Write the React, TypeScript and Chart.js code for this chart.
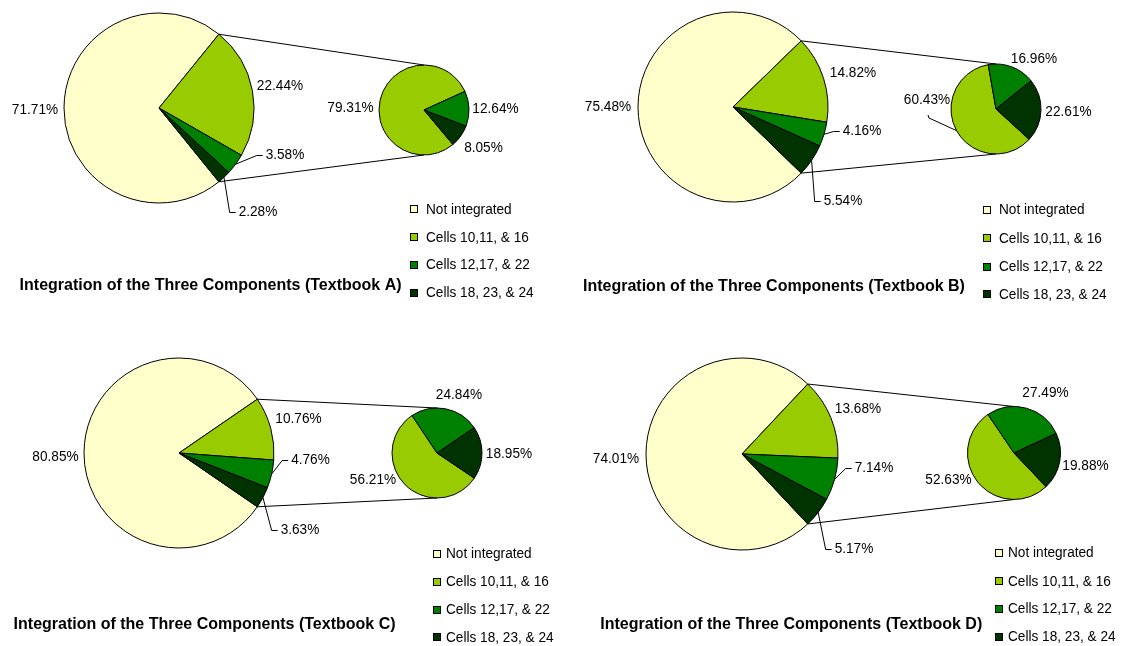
import React, { useEffect, useRef } from 'react';
import { Chart, registerables } from 'chart.js';

Chart.register(...registerables);

// ---------- data ----------
const CATEGORIES = ['Not integrated', 'Cells 10,11, & 16', 'Cells 12,17, & 22', 'Cells 18, 23, & 24'];
const TEXTBOOKS = ['A', 'B', 'C', 'D'];

const MAIN_A = [71.71, 22.44, 3.58, 2.28];
const MAIN_B = [75.48, 14.82, 4.16, 5.54];
const MAIN_C = [80.85, 10.76, 4.76, 3.63];
const MAIN_D = [74.01, 13.68, 7.14, 5.17];

// secondary pie: share of the three integrated components
const SUB_A = [79.31, 12.64, 8.05];
const SUB_B = [60.43, 16.96, 22.61];
const SUB_C = [56.21, 24.84, 18.95];
const SUB_D = [52.63, 27.49, 19.88];

// ---------- style / layout ----------
const COLORS = ['#FFFFCC', '#99CC00', '#008000', '#003300'];
const FONT = '"Liberation Sans", Arial, Helvetica, sans-serif';
const LABEL_FONT = `15.5px ${FONT}`;
const LABEL_SX = 0.88;

type Lbl = [number, number, string | null];
interface Panel {
  main: number[];
  sub: number[];
  book: string;
  big: { x: number; y: number; r: number };
  small: { x: number; y: number; r: number };
  subRotation: number;
  mainLabels: Lbl[];
  subLabels: Lbl[];
  legend: { sq: number; tx: number; ys: number[] };
  title: { x: number; y: number };
}

const PANELS: Panel[] = [
  {
    main: MAIN_A, sub: SUB_A, book: TEXTBOOKS[0],
    big: { x: 159, y: 108, r: 95 }, small: { x: 424, y: 110, r: 45 }, subRotation: 140,
    mainLabels: [[35, 110, null], [280, 86, null], [285, 154.5, 'left'], [258, 212, 'left']],
    subLabels: [[350.5, 107.5, null], [495.5, 109, null], [483.5, 148, null]],
    legend: { sq: 410, tx: 426, ys: [209.3, 237.3, 265, 292.7] },
    title: { x: 19.6, y: 285.7 },
  },
  {
    main: MAIN_B, sub: SUB_B, book: TEXTBOOKS[1],
    big: { x: 733, y: 107, r: 95 }, small: { x: 996, y: 109, r: 45 }, subRotation: 132.5,
    mainLabels: [[608, 107, null], [853, 72.5, null], [862, 130.5, 'left'], [843, 201, 'left']],
    subLabels: [[927, 100, 'below'], [1034, 59, null], [1068.5, 112, null]],
    legend: { sq: 983, tx: 999, ys: [210, 238.3, 266.7, 294.3] },
    title: { x: 583, y: 286.7 },
  },
  {
    main: MAIN_C, sub: SUB_C, book: TEXTBOOKS[2],
    big: { x: 179, y: 453, r: 95 }, small: { x: 437, y: 453, r: 45 }, subRotation: 124,
    mainLabels: [[55.5, 457, null], [298.5, 419, null], [310.5, 459.5, 'left'], [300, 529.5, 'left']],
    subLabels: [[373, 479.5, null], [459, 395, null], [509, 454, null]],
    legend: { sq: 433, tx: 446, ys: [553.7, 582, 609.7, 637.3] },
    title: { x: 13.6, y: 625 },
  },
  {
    main: MAIN_D, sub: SUB_D, book: TEXTBOOKS[3],
    big: { x: 742, y: 454, r: 96 }, small: { x: 1014, y: 453, r: 46.5 }, subRotation: 136.5,
    mainLabels: [[616, 459, null], [858, 408.5, null], [874, 468, 'left'], [854, 549, 'left']],
    subLabels: [[948.5, 480, null], [1045.5, 392.5, null], [1085.5, 466, null]],
    legend: { sq: 995, tx: 1008, ys: [553, 581.3, 609, 637] },
    title: { x: 600.3, y: 625 },
  },
];

const sum = (a: number[]) => a.reduce((s, v) => s + v, 0);
const fmt = (v: number) => v.toFixed(2) + '%';

function drawText(ctx: CanvasRenderingContext2D, txt: string, x: number, y: number, sx: number) {
  ctx.save();
  ctx.translate(x, y);
  ctx.scale(sx, 1);
  ctx.fillText(txt, 0, 0);
  ctx.restore();
}

const pieOfPie = {
  id: 'pieOfPie',
  afterDatasetsUpdate(chart: any) {
    chart.data.datasets.forEach((_: any, i: number) => {
      const p = PANELS[Math.floor(i / 2)];
      const g = i % 2 === 0 ? p.big : p.small;
      chart.getDatasetMeta(i).data.forEach((el: any) => {
        el.x = g.x;
        el.y = g.y;
        el.innerRadius = 0;
        el.outerRadius = g.r;
      });
    });
  },
  afterDatasetsDraw(chart: any) {
    const ctx: CanvasRenderingContext2D = chart.ctx;
    ctx.save();
    ctx.strokeStyle = '#000';
    ctx.lineWidth = 1;
    ctx.fillStyle = '#000';
    PANELS.forEach((p, pi) => {
      const bigEls = chart.getDatasetMeta(pi * 2).data;
      const smallEls = chart.getDatasetMeta(pi * 2 + 1).data;
      // connector lines between the primary pie and the secondary pie
      const a0 = bigEls[1].startAngle;
      const a1 = bigEls[3].endAngle;
      ctx.beginPath();
      ctx.moveTo(p.big.x + p.big.r * Math.cos(a0), p.big.y + p.big.r * Math.sin(a0));
      ctx.lineTo(p.small.x, p.small.y - p.small.r);
      ctx.moveTo(p.big.x + p.big.r * Math.cos(a1), p.big.y + p.big.r * Math.sin(a1));
      ctx.lineTo(p.small.x, p.small.y + p.small.r);
      ctx.stroke();

      ctx.font = LABEL_FONT;
      ctx.textBaseline = 'middle';
      ctx.textAlign = 'center';
      const drawLabels = (els: any[], vals: number[], labels: Lbl[], g: { x: number; y: number; r: number }) => {
        vals.forEach((v, k) => {
          const [lx, ly, leader] = labels[k];
          const txt = fmt(v);
          drawText(ctx, txt, lx, ly, LABEL_SX);
          if (leader) {
            const el = els[k];
            const mid = (el.startAngle + el.endAngle) / 2;
            const sx = g.x + g.r * Math.cos(mid);
            const sy = g.y + g.r * Math.sin(mid);
            const w = ctx.measureText(txt).width * LABEL_SX;
            ctx.beginPath();
            ctx.moveTo(sx, sy);
            if (leader === 'left') {
              const left = lx - w / 2;
              ctx.lineTo(left - 9, Math.round(ly) + 0.5);
              ctx.lineTo(left - 3, Math.round(ly) + 0.5);
            } else {
              ctx.lineTo(lx + 2, ly + 18);
              ctx.lineTo(lx + 1, ly + 15);
            }
            ctx.stroke();
          }
        });
      };
      drawLabels(bigEls, p.main, p.mainLabels, p.big);
      drawLabels(smallEls, p.sub, p.subLabels, p.small);

      // legend
      ctx.textAlign = 'left';
      CATEGORIES.forEach((c, k) => {
        const y = p.legend.ys[k];
        const top = Math.round(y - 4);
        ctx.fillStyle = COLORS[k];
        ctx.fillRect(p.legend.sq, top, 8, 8);
        ctx.strokeRect(p.legend.sq + 0.5, top + 0.5, 7, 7);
        ctx.fillStyle = '#000';
        drawText(ctx, c, p.legend.tx, y, LABEL_SX);
      });

      // title
      ctx.font = `bold 16px ${FONT}`;
      ctx.fillText(`Integration of the Three Components (Textbook ${p.book})`, p.title.x, p.title.y);
    });
    ctx.restore();
  },
};

export default function App() {
  const ref = useRef<HTMLCanvasElement | null>(null);
  useEffect(() => {
    if (!ref.current) return;
    const datasets: any[] = [];
    PANELS.forEach((p) => {
      const green = sum(p.main) - p.main[0];
      datasets.push({
        data: p.main,
        backgroundColor: COLORS,
        borderColor: '#000',
        borderWidth: 1,
        rotation: 90 + (green / sum(p.main)) * 180,
        clip: false,
      });
      datasets.push({
        data: p.sub,
        backgroundColor: COLORS.slice(1),
        borderColor: '#000',
        borderWidth: 1,
        rotation: p.subRotation,
        clip: false,
      });
    });
    const chart = new Chart(ref.current, {
      type: 'pie',
      data: { labels: CATEGORIES, datasets },
      options: {
        animation: false,
        responsive: true,
        maintainAspectRatio: false,
        events: [],
        layout: { padding: 0 },
        plugins: { legend: { display: false }, tooltip: { enabled: false }, title: { display: false } },
      },
      plugins: [pieOfPie],
    } as any);
    return () => chart.destroy();
  }, []);
  return (
    <div style={{ position: 'absolute', left: 0, top: 0, width: 1124, height: 646, background: '#fff' }}>
      <canvas ref={ref} />
    </div>
  );
}
